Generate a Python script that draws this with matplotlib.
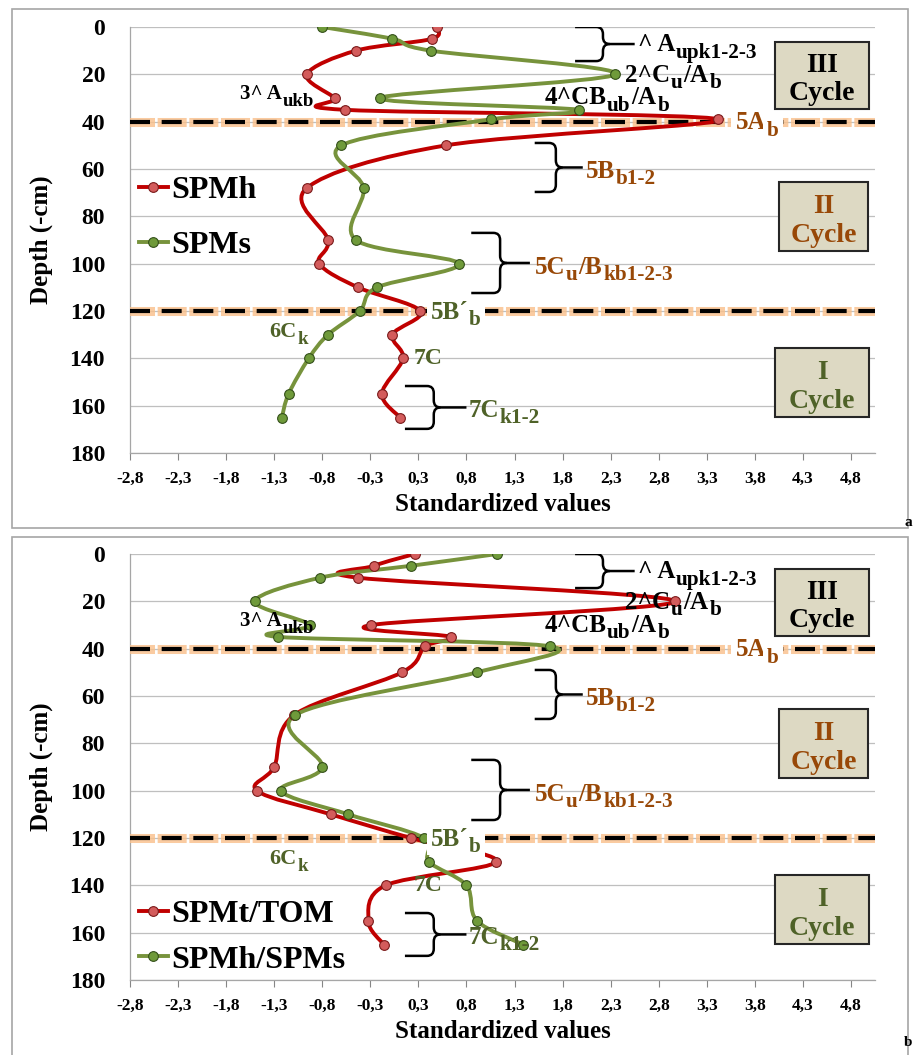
import numpy as np
import matplotlib
matplotlib.use("Agg")
import matplotlib.pyplot as plt
import matplotlib.patheffects as pe
from matplotlib.path import Path
from matplotlib.patches import PathPatch, Rectangle
from matplotlib.lines import Line2D

plt.rcParams['font.family'] = ['Liberation Serif', 'DejaVu Serif']
plt.rcParams['font.weight'] = 'bold'
plt.rcParams['axes.labelweight'] = 'bold'

# data
depth = [0, 5, 10, 20, 30, 35, 39, 50, 68, 90, 100, 110, 120, 130, 140, 155, 165]

spmh = [0.44, 0.39, -0.40, -0.91, -0.62, -0.51, 3.37, 0.54, -0.91, -0.69,
        -0.78, -0.38, 0.27, -0.02, 0.09, -0.13, 0.06]
spms = [-0.75, -0.02, 0.38, 2.30, -0.15, 1.92, 1.01, -0.55, -0.32, -0.40,
        0.67, -0.18, -0.36, -0.69, -0.89, -1.10, -1.17]

spmt_tom = [0.21, -0.21, -0.38, 2.92, -0.24, 0.59, 0.32, 0.08, -1.04, -1.25,
            -1.43, -0.66, 0.17, 1.06, -0.09, -0.27, -0.11]
spmh_spms = [1.07, 0.17, -0.77, -1.45, -0.88, -1.21, 1.62, 0.86, -1.03, -0.75,
             -1.18, -0.48, 0.31, 0.36, 0.75, 0.86, 1.34]

x_ticks = np.arange(-2.75, 5.0, 0.5)
x_tick_labels = ['-2,8', '-2,3', '-1,8', '-1,3', '-0,8', '-0,3', '0,3', '0,8',
                 '1,3', '1,8', '2,3', '2,8', '3,3', '3,8', '4,3', '4,8']
y_ticks = [0, 20, 40, 60, 80, 100, 120, 140, 160, 180]
boundaries = [40, 120]

RED = '#c00000'
GREEN = '#77933c'
BROWN = '#984807'
OLIVE = '#4f6228'


def smooth_path(xs, ys):
    # excel-like smoothed line (catmull-rom as cubic bezier)
    p = np.column_stack([xs, ys]).astype(float)
    n = len(p)
    verts = [p[0]]
    codes = [Path.MOVETO]
    for i in range(n - 1):
        p0 = p[max(i - 1, 0)]
        p1 = p[i]
        p2 = p[i + 1]
        p3 = p[min(i + 2, n - 1)]
        c1 = p1 + (p2 - p0) / 6.0
        c2 = p2 - (p3 - p1) / 6.0
        verts += [c1, c2, p2]
        codes += [Path.CURVE4] * 3
    return Path(verts, codes)


def draw_series(ax, xs, color, mface, medge):
    ax.add_patch(PathPatch(smooth_path(xs, depth), fill=False, edgecolor=color,
                           lw=2.8, zorder=4, capstyle='round', joinstyle='round'))
    ax.plot(xs, depth, ls='none', marker='o', ms=7, mfc=mface, mec=medge,
            mew=0.8, zorder=5)


def rich(ax, x, y, runs, fs, color='black', white=False, sub_scale=0.85):
    # runs: list of (text, is_subscript); subscripts drawn a bit smaller and lower
    bb = dict(facecolor='white', edgecolor='none', pad=3) if white else None
    base = ax.text(x, y, runs[0][0], fontsize=fs, color=color, va='center',
                   zorder=9, bbox=bb)
    prev = base
    for s, is_sub in runs[1:]:
        if is_sub:
            t = ax.annotate(s, xy=(1, 0), xycoords=(prev, base), xytext=(0.6, -1),
                            textcoords='offset points', fontsize=fs * sub_scale,
                            color=color, va='baseline', ha='left', zorder=9,
                            bbox=bb)
        else:
            t = ax.annotate(s, xy=(1, 0), xycoords=(prev, base), xytext=(0.6, 0),
                            textcoords='offset points', fontsize=fs, color=color,
                            va='bottom', ha='left', zorder=9, bbox=bb)
        prev = t


def brace(ax, xl, xv, xn, yt, yb):
    ym = (yt + yb) / 2.0
    d, r = 0.07, 3.0
    verts = [(xl, yt), (xv - d, yt), (xv, yt), (xv, yt + r),
             (xv, ym - r), (xv, ym), (xv + d, ym), (xn, ym)]
    codes = [Path.MOVETO, Path.LINETO, Path.CURVE3, Path.CURVE3,
             Path.LINETO, Path.CURVE3, Path.CURVE3, Path.LINETO]
    ax.add_patch(PathPatch(Path(verts, codes), fill=False, lw=1.8,
                           edgecolor='black', zorder=6))
    verts2 = [(xl, yb), (xv - d, yb), (xv, yb), (xv, yb - r),
              (xv, ym + r), (xv, ym), (xv + d, ym)]
    codes2 = [Path.MOVETO, Path.LINETO, Path.CURVE3, Path.CURVE3,
              Path.LINETO, Path.CURVE3, Path.CURVE3]
    ax.add_patch(PathPatch(Path(verts2, codes2), fill=False, lw=1.8,
                           edgecolor='black', zorder=6))


def cycle_box(ax, x0, x1, y0, y1, roman, color):
    ax.add_patch(Rectangle((x0, y0), x1 - x0, y1 - y0, facecolor='#ddd9c3',
                           edgecolor='#262626', lw=1.5, zorder=7))
    xc = (x0 + x1) / 2
    ax.text(xc, y0 + (y1 - y0) * 0.35, roman, ha='center', va='center',
            fontsize=20, color=color, zorder=8)
    ax.text(xc, y0 + (y1 - y0) * 0.77, 'Cycle', ha='center', va='center',
            fontsize=20, color=color, zorder=8)


def setup_axes(ax):
    ax.set_xlim(-2.75, 5.0)
    ax.set_ylim(180, 0)
    ax.set_yticks(y_ticks)
    ax.set_yticklabels([str(v) for v in y_ticks], fontsize=17)
    ax.set_xticks(x_ticks)
    ax.set_xticklabels(x_tick_labels, fontsize=12.5)
    ax.tick_params(axis='y', length=0, pad=18)
    ax.tick_params(axis='x', length=5, color='#868686', pad=8)
    ax.yaxis.grid(True, color='#bfbfbf', lw=0.9)
    ax.set_axisbelow(True)
    for s in ['top', 'right']:
        ax.spines[s].set_visible(False)
    for s in ['left', 'bottom']:
        ax.spines[s].set_color('#a6a6a6')
        ax.spines[s].set_linewidth(0.9)
    ax.set_xlabel('Standardized values', fontsize=18, labelpad=4)
    ax.set_ylabel('Depth (-cm)', fontsize=18, labelpad=12)
    for b in boundaries:
        ax.axhline(b, color='black', lw=3, dashes=(4.8, 2.8), zorder=3,
                   path_effects=[pe.Stroke(linewidth=6.5, foreground='#f9bf8a',
                                           alpha=0.8, capstyle='projecting'),
                                 pe.Normal()])

    # braces
    brace(ax, 1.88, 2.17, 2.50, 0, 14.4)
    brace(ax, 1.46, 1.68, 1.96, 49, 69.7)
    brace(ax, 0.80, 1.10, 1.41, 87, 112.4)
    brace(ax, 0.11, 0.41, 0.75, 151.7, 169.8)

    # horizon labels
    rich(ax, 2.53, 7.5, [('^ A', False), ('upk1-2-3', True)], 18)
    rich(ax, 2.40, 20.5, [('2^C', False), ('u', True), ('/A', False), ('b', True)], 18)
    rich(ax, 1.56, 30, [('4^CB', False), ('ub', True), ('/A', False), ('b', True)], 18)
    rich(ax, -1.61, 28.5, [('3^ A', False), ('ukb', True)], 15, sub_scale=0.9)
    rich(ax, 3.55, 40.5, [('5A', False), ('b', True)], 18, BROWN, white=True)
    rich(ax, 1.99, 61, [('5B', False), ('b1-2', True)], 18, BROWN)
    rich(ax, 1.46, 101.5, [('5C', False), ('u', True), ('/B', False), ('kb1-2-3', True)],
         18, BROWN)
    rich(ax, 0.38, 120.5, [('5B\u00b4', False), ('b', True)], 18, OLIVE, white=True)
    rich(ax, -1.30, 129, [('6C', False), ('k', True)], 16, OLIVE)
    rich(ax, 0.20, 140, [('7C', False)], 17, OLIVE)
    rich(ax, 0.77, 162, [('7C', False), ('k1-2', True)], 18, OLIVE)

    cycle_box(ax, 3.96, 4.94, 6.3, 34.6, 'III', 'black')
    cycle_box(ax, 4.00, 4.93, 65.5, 94.6, 'II', BROWN)
    cycle_box(ax, 3.96, 4.94, 135.6, 164.8, 'I', OLIVE)


fig = plt.figure(figsize=(9.13, 10.55), dpi=100)

# panel frames
for y0, h in [(1 - 528 / 1055, 519 / 1055), (-0.01, 1 - 537 / 1055 + 0.01)]:
    fig.add_artist(Rectangle((12 / 913, y0), 896 / 913, h, transform=fig.transFigure,
                             fill=False, edgecolor='#a6a6a6', lw=1.2))

ax1 = fig.add_axes([130 / 913, 1 - 453 / 1055, 745 / 913, 426 / 1055])
ax2 = fig.add_axes([130 / 913, 1 - 980 / 1055, 745 / 913, 426 / 1055])

for ax in (ax1, ax2):
    setup_axes(ax)

draw_series(ax1, spmh, RED, '#d35c5c', '#7a1a1a')
draw_series(ax1, spms, GREEN, '#6f9a3a', '#34501a')
draw_series(ax2, spmt_tom, RED, '#d35c5c', '#7a1a1a')
draw_series(ax2, spmh_spms, GREEN, '#6f9a3a', '#34501a')


def legend_handles():
    h1 = Line2D([], [], color=RED, lw=2.8, marker='o', ms=7, mfc='#d35c5c',
                mec='#7a1a1a', mew=0.8)
    h2 = Line2D([], [], color=GREEN, lw=2.8, marker='o', ms=7, mfc='#6f9a3a',
                mec='#34501a', mew=0.8)
    return [h1, h2]


ax1.legend(legend_handles(), ['SPMh', 'SPMs'], loc='upper left',
           bbox_to_anchor=(-0.005, 0.68), frameon=False, prop={'size': 23, 'weight': 'bold'},
           handlelength=0.9, handletextpad=0.1, labelspacing=0.8, borderaxespad=0)
ax2.legend(legend_handles(), ['SPMt/TOM', 'SPMh/SPMs'], loc='upper left',
           bbox_to_anchor=(-0.005, 0.218), frameon=False, prop={'size': 23, 'weight': 'bold'},
           handlelength=0.9, handletextpad=0.1, labelspacing=0.5, borderaxespad=0)

fig.text(912 / 913, 1 - 522 / 1055, 'a', fontsize=11, va='center', ha='right')
fig.text(912 / 913, 1 - 1043 / 1055, 'b', fontsize=11, va='center', ha='right')

fig.savefig('out.png', dpi=100)
